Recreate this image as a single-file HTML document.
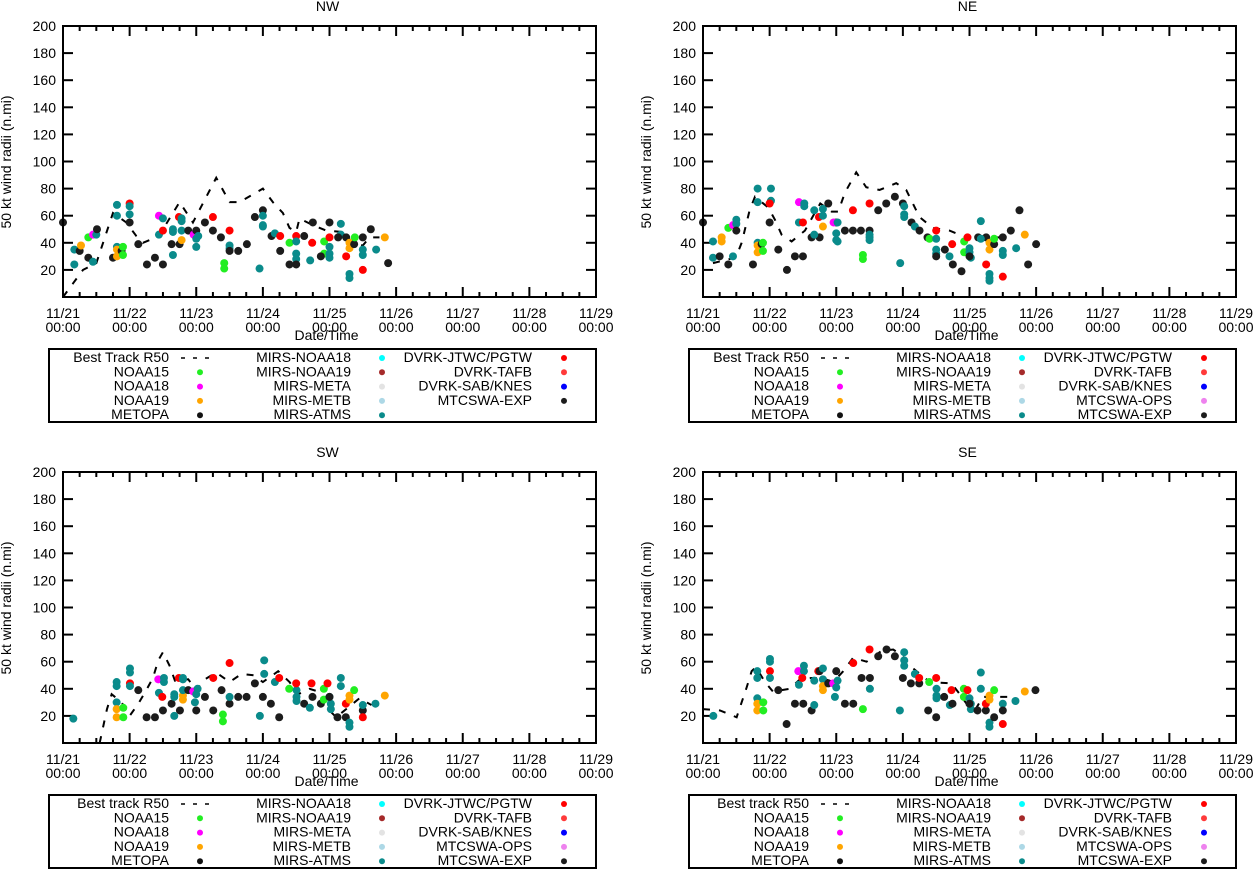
<!DOCTYPE html>
<html><head><meta charset="utf-8"><style>
body{margin:0;background:#fff;}
svg{display:block;font-family:"Liberation Sans",Arial,sans-serif;}
</style></head><body>
<svg id="chart" width="1253" height="870" viewBox="0 0 1253 870" xmlns="http://www.w3.org/2000/svg"></svg>
<script>
const xTickLabels = ["11/21","11/22","11/23","11/24","11/25","11/26","11/27","11/28","11/29"];
const yTicks = [20,40,60,80,100,120,140,160,180,200];
const panelNames = ["NW","NE","SW","SE"];

const nwTrackDays = [0,0.15,0.3,0.5,0.75,0.95,1.1,1.2,1.45,1.5,1.75,1.95,2.3,2.5,2.65,3.0,3.15,3.3,3.4,3.5,3.55,3.75,3.95,4.2,4.35,4.5,4.6,4.75];
const nwTrackVals = [0,10,20,25,62,55,45,40,45,50,70,55,88,70,70,80,70,62,51,48,58,53,49,48,40,38,44,44];
const nwPoints = [[0,55,"k"],[0.17,35,"t"],[0.17,24,"t"],[0.25,34,"k"],[0.27,38,"o"],[0.38,44,"g"],[0.45,46,"m"],[0.38,29,"k"],[0.45,26,"t"],[0.5,46,"t"],[0.51,50,"k"],[0.75,29,"k"],[0.81,68,"t"],[0.81,60,"t"],[0.81,37,"t"],[0.81,35,"o"],[0.81,30,"o"],[0.88,34,"k"],[0.9,37,"g"],[0.9,31,"g"],[1,69,"r"],[1,67,"t"],[1,61,"t"],[1,55,"k"],[1.13,39,"k"],[1.26,24,"k"],[1.38,29,"k"],[1.44,60,"m"],[1.44,46,"t"],[1.5,49,"r"],[1.5,24,"k"],[1.5,58,"t"],[1.63,39,"k"],[1.65,31,"t"],[1.65,50,"t"],[1.65,48,"t"],[1.74,59,"r"],[1.75,39,"k"],[1.78,42,"o"],[1.78,58,"t"],[1.78,56,"t"],[1.78,49,"t"],[1.88,49,"k"],[1.96,46,"m"],[2,49,"k"],[2,43,"t"],[2,37,"t"],[2.03,45,"t"],[2.13,55,"k"],[2.25,59,"r"],[2.25,49,"k"],[2.37,44,"k"],[2.42,25,"g"],[2.42,21,"g"],[2.5,38,"t"],[2.5,36,"t"],[2.5,49,"r"],[2.5,34,"k"],[2.63,34,"k"],[2.76,39,"k"],[2.88,59,"k"],[2.95,21,"t"],[3,64,"k"],[3,60,"t"],[3,53,"t"],[3,52,"t"],[3.13,45,"k"],[3.18,47,"t"],[3.26,45,"r"],[3.26,34,"k"],[3.4,40,"g"],[3.4,24,"k"],[3.5,45,"r"],[3.5,41,"t"],[3.5,32,"t"],[3.5,28,"t"],[3.5,24,"k"],[3.62,45,"k"],[3.74,40,"r"],[3.71,27,"t"],[3.75,55,"k"],[3.92,41,"g"],[3.92,32,"g"],[3.87,30,"k"],[4,55,"k"],[4,44,"r"],[4,37,"t"],[4,32,"t"],[4,29,"t"],[4.17,54,"t"],[4.17,46,"t"],[4.13,44,"k"],[4.25,44,"k"],[4.25,30,"r"],[4.3,40,"o"],[4.3,36,"o"],[4.37,39,"k"],[4.38,44,"g"],[4.5,35,"t"],[4.5,31,"t"],[4.5,44,"k"],[4.5,20,"r"],[4.62,50,"k"],[4.3,17,"t"],[4.3,14,"t"],[4.7,35,"t"],[4.83,44,"o"],[4.88,25,"k"]];

const neTrackDays = [0.15,0.4,0.5,0.58,0.7,0.78,0.98,1.08,1.18,1.33,1.53,1.7,1.76,1.93,2.03,2.13,2.3,2.45,2.65,2.9,3.05,3.25,3.45,3.7,4.05,4.25,4.58];
const neTrackVals = [25,28,30,40,64,74,66,57,46,41,49,64,69,63,63,77,92,81,79,84,79,59,51,49,42,44,44];
const nePoints = [[0,55,"k"],[0.15,41,"t"],[0.15,29,"t"],[0.28,44,"o"],[0.28,41,"o"],[0.25,30,"k"],[0.38,24,"k"],[0.38,51,"g"],[0.45,53,"m"],[0.45,30,"t"],[0.5,57,"t"],[0.5,54,"t"],[0.5,49,"k"],[0.75,24,"k"],[0.82,80,"t"],[0.82,70,"t"],[0.82,40,"t"],[0.82,38,"o"],[0.82,33,"o"],[0.88,39,"k"],[0.9,40,"g"],[0.9,34,"g"],[1.02,80,"t"],[1.02,71,"t"],[1,69,"r"],[1,55,"k"],[1.13,35,"k"],[1.26,20,"k"],[1.38,30,"k"],[1.5,30,"k"],[1.44,70,"m"],[1.52,69,"t"],[1.52,67,"t"],[1.44,55,"t"],[1.5,55,"r"],[1.63,44,"k"],[1.75,44,"k"],[1.67,64,"t"],[1.67,46,"t"],[1.74,59,"r"],[1.8,65,"t"],[1.8,60,"t"],[1.8,52,"o"],[1.88,69,"k"],[2,55,"k"],[1.96,55,"m"],[2,47,"t"],[2,42,"t"],[2.02,41,"t"],[2.02,55,"t"],[2.13,49,"k"],[2.25,49,"k"],[2.37,49,"k"],[2.5,49,"k"],[2.25,64,"r"],[2.5,46,"t"],[2.5,44,"t"],[2.5,42,"t"],[2.4,31,"g"],[2.4,28,"g"],[2.5,69,"r"],[2.63,64,"k"],[2.75,69,"k"],[2.88,74,"k"],[3,69,"k"],[2.96,25,"t"],[3.02,67,"t"],[3.02,61,"t"],[3.02,59,"t"],[3.13,55,"k"],[3.18,52,"t"],[3.25,49,"k"],[3.37,44,"k"],[3.4,43,"g"],[3.5,43,"t"],[3.5,35,"t"],[3.5,32,"t"],[3.5,49,"r"],[3.5,30,"k"],[3.63,35,"k"],[3.7,30,"t"],[3.74,39,"r"],[3.75,24,"k"],[3.88,19,"k"],[3.92,41,"g"],[3.92,33,"g"],[3.97,44,"r"],[4,36,"t"],[4,33,"t"],[4.02,29,"t"],[4,30,"k"],[4.13,44,"k"],[4.25,44,"k"],[4.17,56,"t"],[4.17,43,"t"],[4.25,24,"r"],[4.3,17,"t"],[4.3,14,"t"],[4.3,12,"t"],[4.3,40,"o"],[4.3,35,"o"],[4.37,39,"k"],[4.37,43,"g"],[4.5,44,"k"],[4.5,34,"t"],[4.5,31,"t"],[4.5,15,"r"],[4.62,49,"k"],[4.7,36,"t"],[4.75,64,"k"],[4.83,46,"o"],[4.88,24,"k"],[5,39,"k"]];

const swTrackDays = [0.55,0.66,0.73,0.88,1.0,1.13,1.25,1.35,1.43,1.5,1.6,1.68,1.88,2.0,2.13,2.3,2.5,2.68,2.86,3.0,3.23,3.4,3.53,3.7,3.83,3.96,4.1,4.25,4.45,4.63];
const swTrackVals = [0,25,36,30,20,29,39,48,61,67,57,46,47,39,47,52,45,51,50,45,53,45,36,40,38,26,19,25,33,28];
const swPoints = [[0.155,18,"t"],[0.805,45,"t"],[0.805,42,"t"],[0.805,30,"t"],[0.805,25,"o"],[0.805,19,"o"],[0.905,26,"g"],[0.905,19,"g"],[1.005,44,"r"],[1.005,55,"t"],[1.005,52,"t"],[1.005,42,"t"],[1.13,39,"k"],[1.255,19,"k"],[1.38,19,"k"],[1.43,47,"m"],[1.515,48,"t"],[1.515,45,"t"],[1.44,37,"t"],[1.49,34,"r"],[1.5,24,"k"],[1.63,29,"k"],[1.67,36,"t"],[1.67,34,"t"],[1.67,20,"t"],[1.74,48,"r"],[1.8,48,"t"],[1.8,47,"t"],[1.8,35,"o"],[1.8,32,"o"],[1.755,24,"k"],[1.8,39,"t"],[1.88,39,"k"],[1.955,38,"m"],[2,36,"t"],[2.02,40,"t"],[1.98,30,"t"],[2,24,"k"],[2.13,34,"k"],[2.255,24,"k"],[2.255,48,"r"],[2.38,39,"k"],[2.4,21,"g"],[2.4,16,"g"],[2.5,29,"k"],[2.5,34,"t"],[2.5,59,"r"],[2.63,34,"k"],[2.755,34,"k"],[2.88,44,"k"],[2.955,20,"t"],[3,34,"k"],[3.02,61,"t"],[3.02,51,"t"],[3.12,29,"k"],[3.18,45,"t"],[3.245,48,"r"],[3.245,19,"k"],[3.395,40,"g"],[3.505,39,"t"],[3.505,34,"t"],[3.505,31,"t"],[3.5,44,"r"],[3.62,29,"k"],[3.705,26,"t"],[3.73,44,"r"],[3.745,34,"k"],[3.87,29,"k"],[3.915,40,"g"],[3.915,32,"g"],[3.97,44,"r"],[4,34,"t"],[4.02,29,"t"],[4.02,25,"t"],[4,34,"k"],[4.12,19,"k"],[4.245,19,"k"],[4.17,48,"t"],[4.17,42,"t"],[4.245,29,"r"],[4.3,15,"t"],[4.3,12,"t"],[4.3,35,"o"],[4.3,32,"o"],[4.37,39,"g"],[4.5,24,"k"],[4.5,28,"t"],[4.5,19,"r"],[4.69,29,"t"],[4.83,35,"o"]];

const seTrackDays = [0,0.255,0.505,0.58,0.655,0.73,0.795,0.93,1.05,1.3,1.455,1.63,1.78,1.955,2.105,2.255,2.455,2.68,2.855,3.0,3.155,3.405,3.73,3.855,3.955,4.08,4.2,4.4,4.65];
const seTrackVals = [25,24,19,30,41,53,56,45,38,40,47,48,48,45,53,63,60,68,69,64,55,45,44,36,29,24,34,34,34];
const sePoints = [[0.155,20,"t"],[0.815,53,"t"],[0.815,48,"t"],[0.815,33,"t"],[0.815,29,"o"],[0.815,24,"o"],[0.905,30,"g"],[0.905,24,"g"],[1.005,53,"r"],[1.005,62,"t"],[1.005,60,"t"],[1.005,48,"t"],[1.13,39,"k"],[1.255,14,"k"],[1.38,29,"k"],[1.505,29,"k"],[1.43,53,"m"],[1.515,57,"t"],[1.515,53,"t"],[1.44,43,"t"],[1.49,48,"r"],[1.63,24,"k"],[1.67,46,"t"],[1.67,28,"t"],[1.73,53,"r"],[1.75,53,"k"],[1.8,55,"t"],[1.8,47,"t"],[1.8,42,"o"],[1.8,39,"o"],[1.88,44,"k"],[1.955,44,"m"],[2.02,46,"t"],[2,41,"t"],[1.98,34,"t"],[2,53,"k"],[2.13,29,"k"],[2.255,29,"k"],[2.255,59,"r"],[2.38,48,"k"],[2.505,48,"k"],[2.4,25,"g"],[2.505,40,"t"],[2.955,24,"t"],[2.5,69,"r"],[2.63,64,"k"],[2.755,69,"k"],[2.88,64,"k"],[3,48,"k"],[3.02,67,"t"],[3.02,61,"t"],[3.02,57,"t"],[3.12,44,"k"],[3.245,44,"k"],[3.18,51,"t"],[3.245,48,"r"],[3.395,45,"g"],[3.38,24,"k"],[3.5,19,"k"],[3.505,40,"t"],[3.505,35,"t"],[3.505,33,"t"],[3.5,48,"r"],[3.62,34,"k"],[3.705,28,"t"],[3.73,39,"r"],[3.745,29,"k"],[3.915,40,"g"],[3.915,34,"g"],[3.97,39,"r"],[4,33,"t"],[4.02,29,"t"],[4.02,25,"t"],[4,29,"k"],[4.12,24,"k"],[4.245,24,"k"],[4.17,52,"t"],[4.17,40,"t"],[4.245,29,"r"],[4.3,15,"t"],[4.3,12,"t"],[4.3,35,"o"],[4.3,32,"o"],[4.37,39,"g"],[4.37,19,"k"],[4.5,29,"t"],[4.5,24,"k"],[4.5,14,"r"],[4.69,31,"t"],[4.83,38,"o"],[4.99,39,"k"]];

const colors = {k:"#1c1c1c",t:"#0a8b8b",r:"#ff0000",g:"#22ee22",o:"#ffa500",m:"#ff00ff"};
const legendCol1 = ["NOAA15","NOAA18","NOAA19","METOPA"];
const legendCol1Colors = ["#22ee22","#ff00ff","#ffa500","#111111"];
const legendCol2 = ["MIRS-NOAA18","MIRS-NOAA19","MIRS-META","MIRS-METB","MIRS-ATMS"];
const legendCol2Colors = ["#00ffff","#a52a2a","#e3e3e3","#add8e6","#0a8b8b"];
const legendCol3Short = ["DVRK-JTWC/PGTW","DVRK-TAFB","DVRK-SAB/KNES","MTCSWA-EXP"];
const legendCol3ShortColors = ["#ff0000","#ff3a3a","#0000ff","#1c1c1c"];
const legendCol3Long = ["DVRK-JTWC/PGTW","DVRK-TAFB","DVRK-SAB/KNES","MTCSWA-OPS","MTCSWA-EXP"];
const legendCol3LongColors = ["#ff0000","#ff3a3a","#0000ff","#ee82ee","#1c1c1c"];

const svg = document.getElementById('chart');
const NS = "http://www.w3.org/2000/svg";
function mk(tag, attrs, parent){const e=document.createElementNS(NS,tag);for(const k in attrs)e.setAttribute(k,attrs[k]);(parent||svg).appendChild(e);return e;}
function txt(x,y,s,anchor,parent){const t=mk('text',{x:x,y:y,'font-size':14,'text-anchor':anchor||'middle',fill:'#000'},parent);t.textContent=s;return t;}

const panels = [
 {name:"NW",x0:63,top:26,days:nwTrackDays,vals:nwTrackVals,pts:nwPoints,bt:"Best Track R50",c3:legendCol3Short,c3c:legendCol3ShortColors},
 {name:"NE",x0:703,top:26,days:neTrackDays,vals:neTrackVals,pts:nePoints,bt:"Best Track R50",c3:legendCol3Long,c3c:legendCol3LongColors},
 {name:"SW",x0:63,top:472,days:swTrackDays,vals:swTrackVals,pts:swPoints,bt:"Best track R50",c3:legendCol3Long,c3c:legendCol3LongColors},
 {name:"SE",x0:703,top:472,days:seTrackDays,vals:seTrackVals,pts:sePoints,bt:"Best track R50",c3:legendCol3Long,c3c:legendCol3LongColors}
];
const W=533,H=271;

panels.forEach(p=>{
 const g=mk('g',{});
 
 
 const xs=d=>p.x0+d*W/8;
 const ys=v=>p.top+H-v*H/200;
 const title=txt(p.x0+W/2-2,p.top-15,p.name,'middle',g);
 
 
 // ticks
 for(let i=0;i<=32;i++){
  const x=xs(i/4), L=(i%4===0)?10:5;
  mk('line',{x1:x,y1:p.top+H,x2:x,y2:p.top+H-L,stroke:'#000','stroke-width':2},g);
  mk('line',{x1:x,y1:p.top,x2:x,y2:p.top+L,stroke:'#000','stroke-width':2},g);
 }
 xTickLabels.forEach((s,i)=>{
  const t1=txt(xs(i),p.top+H+21,s,'middle',g);
  
  
  txt(xs(i),p.top+H+35,'00:00','middle',g);
 });
 yTicks.forEach(v=>{
  const y=ys(v);
  mk('line',{x1:p.x0,y1:y,x2:p.x0+10,y2:y,stroke:'#000','stroke-width':2},g);
  mk('line',{x1:p.x0+W,y1:y,x2:p.x0+W-10,y2:y,stroke:'#000','stroke-width':2},g);
  const t=txt(p.x0-7,y+5,String(v),'end',g);
  
  
 });
 const xt=txt(p.x0+W/2-3,p.top+H+43,'Date/Time','middle',g);
 
 
 const yt=txt(0,0,'50 kt wind radii (n.mi)','middle',g);
 yt.setAttribute('transform','translate('+(p.x0-52)+','+(p.top+136)+') rotate(-90)');
 
 
 // best track
 const pts=p.days.map((d,i)=>xs(d)+','+ys(p.vals[i])).join(' ');
 const bl=mk('polyline',{points:pts,fill:'none',stroke:'#000','stroke-width':2,'stroke-dasharray':'7,9'},g);
 
 
 p.pts.forEach(q=>{
  const c=mk('circle',{cx:xs(q[0]),cy:ys(q[1]),r:4,fill:colors[q[2]]},g);
  
  
 });
 const fr=mk('rect',{x:p.x0,y:p.top,width:W,height:H,fill:'none',stroke:'#000','stroke-width':2},g);
 
 
 // legend
 const lg=mk('g',{},g);
 
 
 const ly=p.top+323;
 mk('rect',{x:p.x0-14,y:ly,width:W+14,height:73,fill:'#fff',stroke:'#000','stroke-width':2},lg);
 const rowY=i=>ly+13+i*14.3;
 const e0=txt(p.x0+106,rowY(0),p.bt,'end',lg);
 
 
 mk('line',{x1:p.x0+118,y1:rowY(0)-4,x2:p.x0+150,y2:rowY(0)-4,stroke:'#000','stroke-width':1.5,'stroke-dasharray':'4,8'},lg);
 legendCol1.forEach((s,i)=>{
  const e=txt(p.x0+106,rowY(i+1),s,'end',lg);
  
  
  mk('circle',{cx:p.x0+137,cy:rowY(i+1)-4,r:3,fill:legendCol1Colors[i]},lg);
 });
 legendCol2.forEach((s,i)=>{
  const e=txt(p.x0+288,rowY(i),s,'end',lg);
  
  
  mk('circle',{cx:p.x0+319,cy:rowY(i)-4,r:3,fill:legendCol2Colors[i]},lg);
 });
 p.c3.forEach((s,i)=>{
  const e=txt(p.x0+469,rowY(i),s,'end',lg);
  
  
  mk('circle',{cx:p.x0+501,cy:rowY(i)-4,r:3,fill:p.c3c[i]},lg);
 });
});
</script>
</body></html>
